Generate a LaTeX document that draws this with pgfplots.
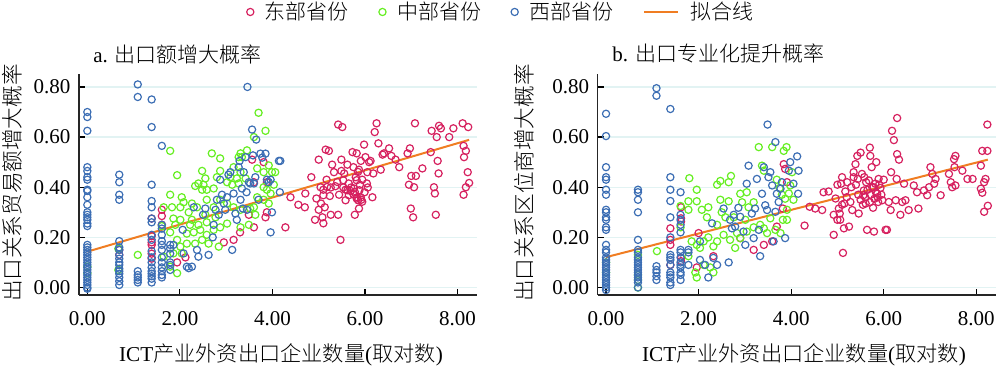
\documentclass[border=0pt]{standalone}
\usepackage{pgfplots}
\pgfplotsset{compat=1.18}
\usepackage{fontspec}
\setmainfont{Liberation Serif}
\newfontfamily\cjk{Noto Sans CJK SC Light}
\definecolor{cred}{HTML}{D6215F}
\definecolor{cgreen}{HTML}{66EE22}
\definecolor{cblue}{HTML}{3C6EB4}
\definecolor{corange}{HTML}{F07D22}
\definecolor{cgrid}{HTML}{E2F3F3}
\pgfplotsset{
  scat/.style={only marks, mark=o, mark size=1.8pt, line width=0.6pt,
    legend image code/.code={\draw[mark repeat=2,mark phase=2,##1] plot coordinates {(0cm,0cm) (0.12cm,0cm) (0.24cm,0cm)};}},
  panel/.style={anchor=south west, scale only axis, width=199pt, height=110.3pt,
    xmin=-0.18, xmax=8.42, ymin=-0.03, ymax=0.85,
    axis lines=left, axis line style={-, draw=black!85, line width=0.65pt},
    xtick={0,2,4,6,8}, ytick={0,0.2,0.4,0.6,0.8},
    tick align=inside, major tick length=3pt, tick style={black, line width=0.6pt},
    ymajorgrids, grid style={cgrid, line width=0.6pt},
    /pgf/number format/.cd, fixed, fixed zerofill, precision=2, assume math mode=true, /pgfplots/.cd,
    ticklabel style={font=\fontsize{10.5}{12}\selectfont},
    xticklabel style={yshift=-4.5pt},
    yticklabel style={xshift=-0.8pt},
    clip=false},
}
\begin{document}
\begin{tikzpicture}
\path[use as bounding box] (0pt,-35.5pt) rectangle (500pt,147.5pt);
% ---------------- panel a ----------------
\begin{axis}[panel, at={(39.5pt,0pt)},
  legend columns=4,
  legend style={at={(1.063,1.283)}, anchor=center, draw=none, fill=none,
    font=\fontsize{10.5}{12}\selectfont\cjk,
    /tikz/every odd column/.append style={column sep=3.5pt},
    /tikz/every even column/.append style={column sep=13pt}},
  legend cell align=left]
\addplot[scat, color=cred] coordinates {
(4.28,0.24)(4.39,0.36)(4.56,0.33)(4.70,0.32)(4.71,0.375)(4.84,0.44)(4.92,0.27)(4.95,0.355)(5.00,0.51)(5.04,0.40)(5.08,0.28)(5.10,0.39)(5.13,0.32)(5.15,0.55)(5.17,0.43)(5.22,0.545)(5.24,0.365)(5.26,0.29)(5.29,0.49)(5.33,0.46)(5.42,0.65)(5.42,0.29)(5.44,0.37)(5.47,0.19)(5.49,0.51)(5.51,0.64)(5.55,0.455)(5.58,0.39)(5.62,0.49)(5.65,0.415)(5.69,0.385)(5.73,0.54)(5.75,0.48)(5.76,0.395)(5.78,0.29)(5.80,0.44)(5.82,0.535)(5.83,0.36)(5.87,0.47)(5.89,0.41)(5.91,0.505)(5.92,0.35)(5.94,0.43)(5.98,0.57)(5.99,0.38)(6.01,0.52)(6.05,0.46)(6.09,0.50)(6.12,0.505)(6.16,0.36)(6.18,0.455)(6.21,0.62)(6.25,0.655)(6.29,0.575)(6.34,0.47)(6.38,0.53)(6.41,0.535)(6.52,0.555)(6.57,0.525)(6.66,0.51)(6.74,0.48)(6.92,0.535)(6.95,0.41)(6.97,0.555)(6.99,0.315)(7.00,0.445)(7.04,0.28)(7.06,0.40)(7.08,0.655)(7.10,0.445)(7.24,0.475)(7.42,0.54)(7.44,0.625)(7.49,0.40)(7.51,0.375)(7.53,0.29)(7.55,0.60)(7.57,0.505)(7.59,0.455)(7.60,0.645)(7.64,0.635)(7.82,0.60)(7.91,0.635)(8.11,0.655)(8.13,0.565)(8.14,0.52)(8.18,0.545)(8.22,0.46)(8.13,0.37)(8.18,0.40)(8.25,0.417)(8.23,0.64)
(5.62,0.388)(5.65,0.368)(5.70,0.399)(5.75,0.372)(5.78,0.381)(5.82,0.355)(5.85,0.348)(5.88,0.388)(5.91,0.359)(5.94,0.342)(5.58,0.348)(5.53,0.399)(5.40,0.421)(5.36,0.404)(5.26,0.399)(5.18,0.401)(5.10,0.368)(5.05,0.335)(5.49,0.465)(5.53,0.428)(5.82,0.428)(5.85,0.461)(6.04,0.415)(6.06,0.399)(5.10,0.256)(5.00,0.31)(5.87,0.315)
(3.88,0.30)(3.60,0.24)(3.49,0.29)(3.30,0.22)(3.16,0.19)(2.95,0.18)(2.12,0.12)(1.94,0.10)(1.61,0.31)(1.61,0.285)(1.61,0.25)(1.39,0.275)(1.39,0.205)(1.39,0.18)(1.39,0.17)(1.39,0.135)(1.39,0.115)(3.56,0.51)(3.81,0.50)(3.88,0.42)(3.60,0.42)(3.85,0.28)(0.69,0.15)(0.69,0.13)
};
\addlegendentry{东部省份}
\addplot[scat, color=cgreen] coordinates {
(3.70,0.697)(3.60,0.60)(3.85,0.625)(1.79,0.545)(2.69,0.535)(2.87,0.515)(3.31,0.535)(3.45,0.547)(3.34,0.52)(2.48,0.465)(2.87,0.465)(1.94,0.448)(2.55,0.435)(2.40,0.415)(2.51,0.41)(2.33,0.405)(2.48,0.39)(2.58,0.39)(2.73,0.395)(3.02,0.42)(3.13,0.41)(3.23,0.435)(3.27,0.415)(3.42,0.435)(3.16,0.48)(3.27,0.52)(3.67,0.475)(3.81,0.46)(3.92,0.487)(3.99,0.46)(4.06,0.46)(3.81,0.40)(3.88,0.39)(1.79,0.37)(2.04,0.36)(2.08,0.34)(2.19,0.30)(2.26,0.335)(2.37,0.32)(2.58,0.35)(2.73,0.32)(2.87,0.35)(3.02,0.335)(3.16,0.32)(3.31,0.31)(3.52,0.315)(3.60,0.32)(2.01,0.32)(1.83,0.32)(1.65,0.32)(1.86,0.275)(2.01,0.27)(2.26,0.27)(2.40,0.25)(2.55,0.29)(2.58,0.26)(2.77,0.28)(2.87,0.24)(3.02,0.255)(1.79,0.22)(1.90,0.25)(1.94,0.19)(2.15,0.215)(2.30,0.22)(2.44,0.23)(2.58,0.21)(2.73,0.23)(2.15,0.175)(2.33,0.175)(2.48,0.19)(2.62,0.175)(2.84,0.163)(2.01,0.163)(1.86,0.136)(2.04,0.136)(1.94,0.057)(1.79,0.083)(1.65,0.123)(1.61,0.245)(1.09,0.13)(0.67,0.155)(0.67,0.07)(0.0,0.083)(0.0,0.057)(3.31,0.24)(3.49,0.25)(3.63,0.29)(3.81,0.35)(3.92,0.335)(3.96,0.375)(3.67,0.36)(4.03,0.41)(3.31,0.46)(3.09,0.44)(2.80,0.44)(2.22,0.25)
};
\addlegendentry{中部省份}
\addplot[scat, color=cblue] coordinates {
(0,0.70)(0,0.68)(0,0.625)(0,0.48)(0,0.465)(0,0.44)(0,0.43)(0,0.39)(0,0.385)(0,0.36)(0,0.33)(0,0.30)(0,0.29)(0,0.28)(0,0.27)(0,0.255)(0,0.245)(0,0.17)(0,0.16)(0,0.15)(0,0.14)(0,0.13)(0,0.12)(0,0.11)(0,0.10)(0,0.09)(0,0.08)(0,0.07)(0,0.06)(0,0.05)(0,0.04)(0,0.03)(0,0.02)(0,0.01)(0,0.0)(0,-0.005)
(0.69,0.45)(0.69,0.42)(0.69,0.37)(0.69,0.35)(0.69,0.185)(0.69,0.16)(0.69,0.15)(0.69,0.13)(0.69,0.115)(0.69,0.10)(0.69,0.09)(0.69,0.075)(0.69,0.065)(0.69,0.055)(0.69,0.04)(0.69,0.025)(0.69,0.01)
(1.09,0.81)(1.09,0.76)(1.09,0.065)(1.09,0.05)(1.09,0.04)(1.09,0.03)(1.09,0.02)
(1.39,0.75)(1.39,0.64)(1.39,0.41)(1.39,0.345)(1.39,0.32)(1.39,0.275)(1.39,0.26)(1.39,0.21)(1.39,0.19)(1.39,0.145)(1.39,0.12)(1.39,0.10)(1.39,0.08)(1.39,0.065)(1.39,0.055)(1.39,0.045)(1.39,0.035)(1.39,0.02)
(1.61,0.565)(1.61,0.25)(1.61,0.235)(1.61,0.21)(1.61,0.185)(1.61,0.17)(1.61,0.15)(1.61,0.12)(1.61,0.10)(1.61,0.08)(1.61,0.065)(1.61,0.05)(1.61,0.04)
(1.79,0.17)(1.79,0.155)(1.79,0.135)(1.79,0.10)(1.79,0.09)(1.79,0.07)
(1.86,0.17)(2.06,0.23)(2.08,0.136)(2.15,0.083)(2.19,0.077)(2.26,0.083)(2.30,0.32)(2.37,0.15)(2.40,0.123)(2.50,0.29)(2.55,0.315)(2.62,0.13)(2.71,0.20)(2.73,0.25)(2.77,0.31)(2.80,0.35)(2.84,0.29)(2.87,0.43)(2.91,0.37)(2.95,0.335)(2.98,0.31)(3.02,0.36)(3.05,0.45)(3.09,0.46)(3.13,0.15)(3.16,0.375)(3.20,0.295)(3.23,0.27)(3.27,0.48)(3.29,0.505)(3.31,0.35)(3.34,0.395)(3.36,0.315)(3.38,0.46)(3.42,0.52)(3.44,0.38)(3.45,0.31)(3.49,0.42)(3.52,0.415)(3.56,0.63)(3.58,0.527)(3.60,0.415)(3.63,0.44)(3.65,0.59)(3.70,0.35)(3.74,0.534)(3.78,0.518)(3.85,0.534)(3.88,0.43)(3.92,0.42)(3.96,0.43)(3.99,0.30)(3.96,0.22)(4.14,0.505)(4.16,0.38)(4.17,0.505)(3.46,0.80)
};
\addlegendentry{西部省份}
\addplot[corange, line width=1pt] coordinates {(0,0.143) (8.25,0.589)};
\addlegendentry{拟合线}
\end{axis}
% ---------------- panel b ----------------
\begin{axis}[panel, at={(298.85pt,0pt)}]
\addplot[scat, color=cred] coordinates {
(4.29,0.247)(4.40,0.322)(4.52,0.315)(4.67,0.309)(4.70,0.38)(4.81,0.383)(4.92,0.21)(4.92,0.29)(4.96,0.355)(5.00,0.41)(5.03,0.315)(5.05,0.295)(5.06,0.27)(5.08,0.414)(5.10,0.44)(5.12,0.138)(5.14,0.236)(5.15,0.335)(5.17,0.383)(5.21,0.42)(5.25,0.243)(5.28,0.341)(5.32,0.309)(5.35,0.46)(5.39,0.492)(5.43,0.525)(5.44,0.433)(5.46,0.295)(5.50,0.538)(5.53,0.453)(5.56,0.368)(5.57,0.387)(5.61,0.335)(5.64,0.23)(5.68,0.427)(5.70,0.558)(5.71,0.525)(5.74,0.48)(5.75,0.40)(5.77,0.318)(5.79,0.223)(5.80,0.354)(5.82,0.414)(5.84,0.50)(5.86,0.374)(5.88,0.341)(5.89,0.433)(5.93,0.397)(5.97,0.348)(6.00,0.43)(6.04,0.23)(6.07,0.23)(6.11,0.341)(6.15,0.309)(6.16,0.46)(6.18,0.625)(6.22,0.588)(6.26,0.348)(6.28,0.433)(6.29,0.676)(6.29,0.532)(6.33,0.51)(6.36,0.29)(6.40,0.341)(6.44,0.414)(6.47,0.348)(6.54,0.309)(6.65,0.407)(6.72,0.38)(6.75,0.315)(6.87,0.387)(6.94,0.368)(6.98,0.40)(7.01,0.48)(7.05,0.453)(7.09,0.414)(7.12,0.433)(7.23,0.368)(7.41,0.453)(7.45,0.42)(7.48,0.40)(7.52,0.512)(7.55,0.525)(7.53,0.48)(7.55,0.407)(7.70,0.466)(7.81,0.433)(7.92,0.433)(8.10,0.486)(8.13,0.545)(8.17,0.42)(8.20,0.433)(8.24,0.65)(8.24,0.545)(8.13,0.378)(8.17,0.302)(8.25,0.326)(8.10,0.394)
(5.45,0.37)(5.50,0.35)(5.55,0.33)(5.60,0.36)(5.65,0.39)(5.70,0.34)(5.72,0.37)(5.78,0.40)(5.83,0.38)(5.87,0.36)(5.90,0.41)(5.95,0.37)(5.40,0.41)(5.35,0.44)(5.58,0.44)(5.62,0.42)(5.30,0.40)(5.20,0.36)(5.10,0.33)(5.00,0.27)
(1.39,0.236)(1.39,0.19)(1.39,0.17)(1.39,0.09)(1.62,0.276)(1.62,0.263)(1.62,0.32)(1.62,0.118)(1.62,0.105)(2.00,0.217)(1.96,0.08)(2.32,0.125)(2.90,0.197)(3.19,0.15)(3.41,0.17)(3.59,0.184)(3.69,0.243)(3.84,0.492)(3.87,0.473)(3.82,0.315)(3.91,0.42)
};
\addplot[scat, color=cgreen] coordinates {
(1.80,0.436)(1.96,0.39)(1.78,0.344)(1.96,0.344)(1.78,0.31)(2.07,0.31)(2.18,0.28)(2.21,0.32)(2.40,0.41)(2.47,0.425)(2.65,0.42)(2.70,0.445)(2.47,0.35)(2.65,0.344)(2.50,0.30)(2.76,0.28)(2.90,0.374)(2.94,0.34)(3.04,0.38)(3.08,0.32)(3.19,0.34)(3.30,0.56)(3.37,0.486)(3.41,0.466)(3.59,0.56)(3.84,0.545)(3.90,0.56)(3.69,0.43)(3.75,0.397)(3.80,0.37)(3.87,0.354)(3.95,0.375)(3.98,0.407)(4.02,0.46)(4.05,0.35)(3.91,0.31)(3.82,0.27)(3.66,0.23)(3.55,0.276)(3.33,0.25)(3.19,0.24)(3.04,0.223)(2.90,0.197)(2.79,0.158)(2.68,0.19)(2.54,0.21)(2.40,0.184)(2.32,0.164)(2.21,0.20)(2.11,0.184)(2.03,0.158)(1.96,0.17)(1.85,0.184)(1.78,0.125)(1.93,0.06)(1.96,0.04)(2.11,0.09)(2.25,0.08)(2.32,0.06)(1.10,0.145)(2.40,0.25)(2.58,0.28)(2.83,0.217)(3.01,0.27)(3.48,0.217)(3.41,0.236)(3.77,0.217)(3.91,0.27)
(0,0.06)(0,0.10)(0.69,0.13)(0.69,0.05)(0.69,0.03)(0.69,0.0)(1.61,0.325)(1.61,0.24)
};
\addplot[scat, color=cblue] coordinates {
(0,0.693)(0,0.604)(0,0.48)(0,0.44)(0,0.43)(0,0.39)(0,0.37)(0,0.31)(0,0.30)(0,0.28)(0,0.27)(0,0.24)(0,0.23)(0,0.17)(0,0.15)(0,0.14)(0,0.12)(0,0.11)(0,0.10)(0,0.09)(0,0.08)(0,0.07)(0,0.06)(0,0.05)(0,0.04)(0,0.03)(0,0.02)(0,0.01)(0,0.0)(0,-0.01)
(0.69,0.39)(0.69,0.38)(0.69,0.35)(0.69,0.30)(0.69,0.19)(0.69,0.15)(0.69,0.14)(0.69,0.12)(0.69,0.11)(0.69,0.10)(0.69,0.09)(0.69,0.08)(0.69,0.07)(0.69,0.06)(0.69,0.05)(0.69,0.04)(0.69,0.03)(0.69,0.02)(0.69,0.0)
(1.09,0.795)(1.09,0.765)(1.09,0.085)(1.09,0.07)(1.09,0.06)(1.09,0.045)(1.09,0.03)
(1.39,0.712)(1.39,0.44)(1.39,0.39)(1.39,0.345)(1.39,0.28)(1.39,0.20)(1.39,0.13)(1.39,0.12)(1.39,0.11)(1.39,0.09)(1.39,0.06)(1.39,0.05)(1.39,0.04)(1.39,0.02)(1.39,0.01)
(1.61,0.38)(1.61,0.29)(1.61,0.27)(1.61,0.25)(1.61,0.22)(1.61,0.15)(1.61,0.14)(1.61,0.12)(1.61,0.10)(1.61,0.09)(1.61,0.08)(1.61,0.06)(1.61,0.05)(1.61,0.03)
(1.78,0.15)(1.78,0.14)(1.78,0.09)(2.03,0.184)(2.03,0.11)(2.14,0.09)(2.21,0.04)(2.29,0.256)(2.32,0.118)(2.40,0.09)(2.54,0.315)(2.65,0.10)(2.68,0.27)(2.72,0.236)(2.76,0.29)(2.79,0.243)(2.86,0.318)(2.90,0.282)(2.97,0.223)(3.01,0.17)(3.04,0.414)(3.08,0.486)(3.15,0.295)(3.19,0.197)(3.22,0.315)(3.26,0.433)(3.30,0.23)(3.33,0.125)(3.37,0.374)(3.41,0.48)(3.44,0.328)(3.48,0.309)(3.49,0.65)(3.51,0.44)(3.55,0.46)(3.59,0.407)(3.66,0.58)(3.66,0.302)(3.69,0.374)(3.73,0.341)(3.77,0.394)(3.80,0.42)(3.87,0.197)(3.95,0.466)(3.98,0.50)(4.05,0.414)(4.13,0.523)(4.15,0.374)(4.16,0.466)(3.62,0.184)
};
\addplot[corange, line width=1pt] coordinates {(0,0.121) (8.25,0.51)};
\end{axis}
% ---------------- text ----------------
\node[anchor=west, inner sep=0pt, font=\fontsize{10.5}{12}\selectfont] at (46.5pt,120.5pt) {a. {\cjk 出口额增大概率}};
\node[anchor=west, inner sep=0pt, font=\fontsize{10.5}{12}\selectfont] at (306pt,121pt) {b. {\cjk 出口专业化提升概率}};
\node[rotate=90, inner sep=0pt, font=\fontsize{10.8}{12}\selectfont\cjk] at (6pt,56pt) {出口关系贸易额增大概率};
\node[rotate=90, inner sep=0pt, font=\fontsize{10.8}{12}\selectfont\cjk] at (262pt,56pt) {出口关系区位商增大概率};
\node[inner sep=0pt, font=\fontsize{10.6}{12}\selectfont] at (140.5pt,-30pt) {ICT{\cjk 产业外资出口企业数量}({\cjk 取对数})};
\node[inner sep=0pt, font=\fontsize{10.6}{12}\selectfont] at (402pt,-30pt) {ICT{\cjk 产业外资出口企业数量}({\cjk 取对数})};
\end{tikzpicture}
\end{document}
